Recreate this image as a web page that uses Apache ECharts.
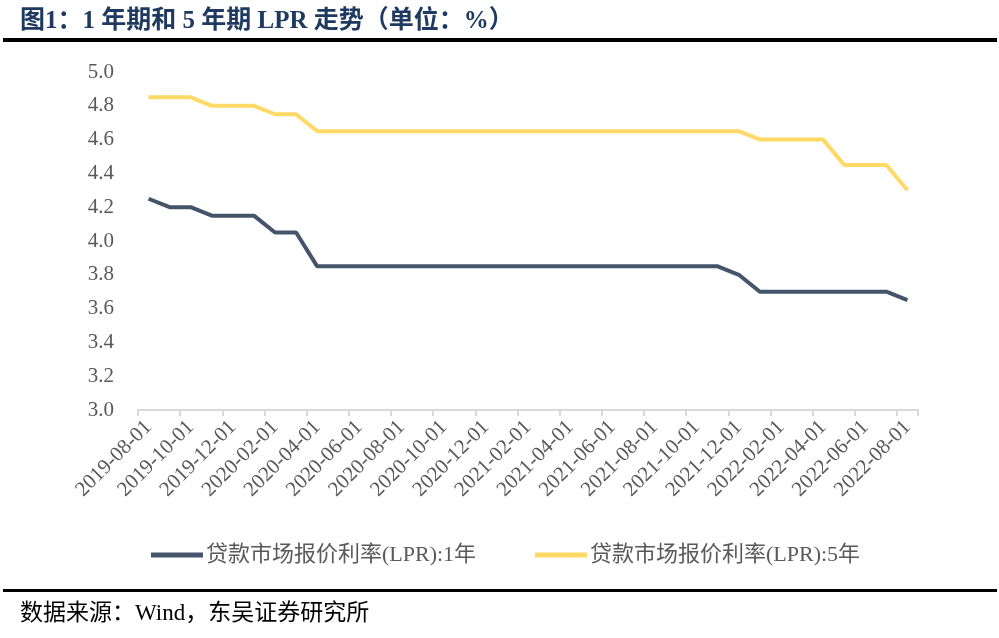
<!DOCTYPE html>
<html><head><meta charset="utf-8">
<script src="https://cdn.jsdelivr.net/npm/echarts@6/dist/echarts.min.js"></script>
<style>html,body{margin:0;padding:0;background:#fff}#c{width:999px;height:638px}</style>
</head><body><div id="c"></div>
<script>
const categories = ['2019-08-01','2019-09-01','2019-10-01','2019-11-01','2019-12-01','2020-01-01','2020-02-01','2020-03-01','2020-04-01','2020-05-01','2020-06-01','2020-07-01','2020-08-01','2020-09-01','2020-10-01','2020-11-01','2020-12-01','2021-01-01','2021-02-01','2021-03-01','2021-04-01','2021-05-01','2021-06-01','2021-07-01','2021-08-01','2021-09-01','2021-10-01','2021-11-01','2021-12-01','2022-01-01','2022-02-01','2022-03-01','2022-04-01','2022-05-01','2022-06-01','2022-07-01','2022-08-01'];
const lpr1y = [4.25,4.20,4.20,4.15,4.15,4.15,4.05,4.05,3.85,3.85,3.85,3.85,3.85,3.85,3.85,3.85,3.85,3.85,3.85,3.85,3.85,3.85,3.85,3.85,3.85,3.85,3.85,3.85,3.80,3.70,3.70,3.70,3.70,3.70,3.70,3.70,3.65];
const lpr5y = [4.85,4.85,4.85,4.80,4.80,4.80,4.75,4.75,4.65,4.65,4.65,4.65,4.65,4.65,4.65,4.65,4.65,4.65,4.65,4.65,4.65,4.65,4.65,4.65,4.65,4.65,4.65,4.65,4.65,4.60,4.60,4.60,4.60,4.45,4.45,4.45,4.30];
const name1 = '贷款市场报价利率(LPR):1年';
const name5 = '贷款市场报价利率(LPR):5年';
const titleText = '图1：1 年期和 5 年期 LPR 走势（单位：%）';
const sourceText = '数据来源：Wind，东吴证券研究所';

const serif = '"Liberation Serif","Noto Sans CJK SC",serif';
const chart = echarts.init(document.getElementById('c'), null, {renderer:'canvas'});
chart.setOption({
  animation:false,
  title:[
    {text:titleText,left:15,top:4,textStyle:{fontFamily:serif,fontSize:25,fontWeight:'bold',color:'#1f3a60'}},
    {text:sourceText,left:15,top:597,textStyle:{fontFamily:serif,fontSize:23,fontWeight:'normal',color:'#000'}}
  ],
  graphic:[
    {type:'rect',shape:{x:3,y:38,width:994,height:4},style:{fill:'#000'}},
    {type:'rect',shape:{x:3,y:589,width:994,height:3},style:{fill:'#000'}}
  ],
  legend:[
    {data:[name1],left:146,top:539,icon:'rect',itemWidth:52,itemHeight:5,itemGap:0,
     textStyle:{fontFamily:serif,fontSize:22,color:'#595959',padding:[0,0,0,-2]}},
    {data:[name5],left:530,top:539,icon:'rect',itemWidth:52,itemHeight:5,itemGap:0,
     textStyle:{fontFamily:serif,fontSize:22,color:'#595959',padding:[0,0,0,-2]}}
  ],
  grid:{left:138,right:81,top:72,bottom:228,containLabel:false},
  xAxis:{type:'category',data:categories,boundaryGap:true,
    axisLine:{lineStyle:{color:'#d9d9d9',width:2}},
    axisTick:{show:true,interval:1,length:6,lineStyle:{color:'#d9d9d9',width:2}},
    axisLabel:{interval:1,rotate:45,margin:14,fontFamily:serif,fontSize:21,color:'#595959'}
  },
  yAxis:{type:'value',min:3,max:5,interval:0.2,
    axisLine:{show:false},axisTick:{show:false},splitLine:{show:false},
    axisLabel:{margin:24,fontFamily:serif,fontSize:21,color:'#595959',formatter:v=>v.toFixed(1)}
  },
  series:[
    {name:name1,type:'line',data:lpr1y,symbol:'none',lineStyle:{color:'#44546a',width:4},itemStyle:{color:'#44546a'}},
    {name:name5,type:'line',data:lpr5y,symbol:'none',lineStyle:{color:'#ffd966',width:4},itemStyle:{color:'#ffd966'}}
  ]
});
</script></body></html>
